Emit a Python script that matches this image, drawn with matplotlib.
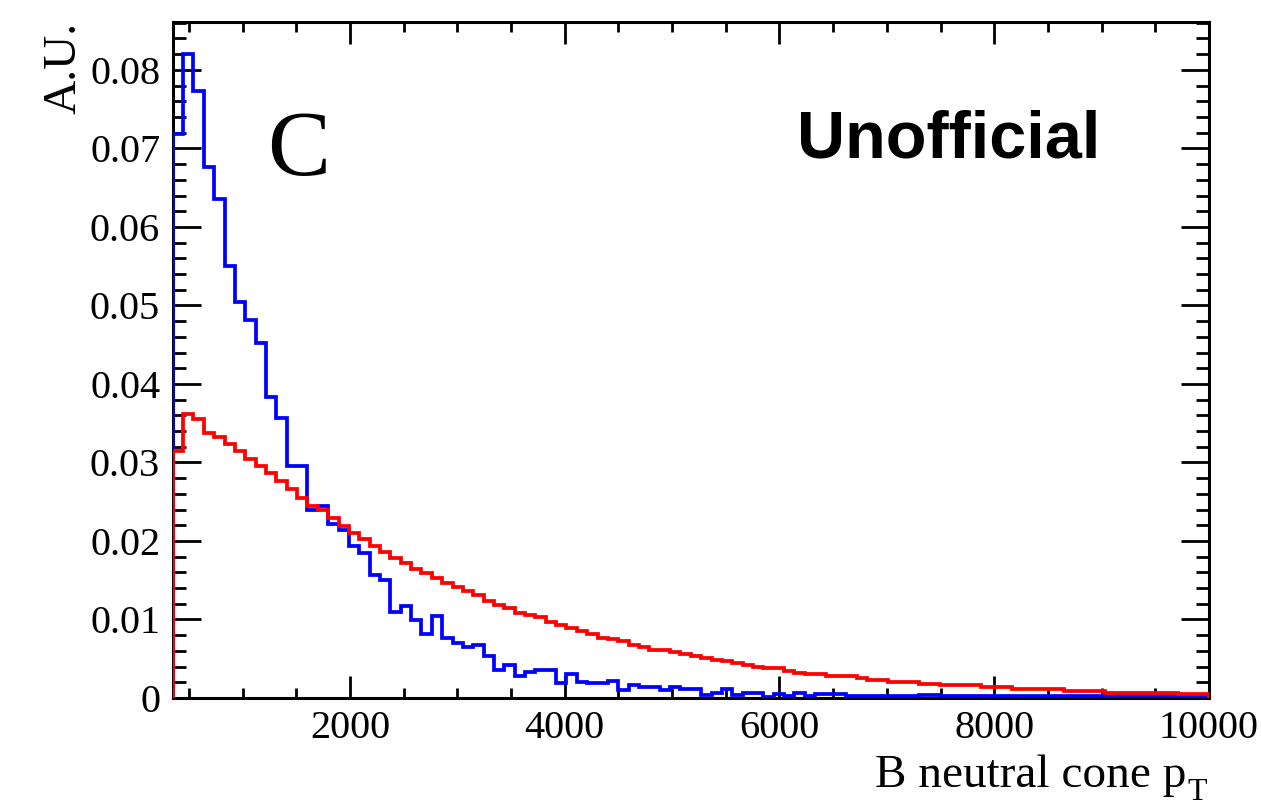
import numpy as np
import matplotlib
matplotlib.use("Agg")
import matplotlib.pyplot as plt
from matplotlib.ticker import MultipleLocator, FuncFormatter

# ---- data ----
x_min, x_max, n_bins = 350.0, 10000.0, 100

blue_values = [
    0.0718, 0.0820, 0.0773, 0.0676, 0.0635, 0.0550, 0.0505, 0.0482, 0.0452, 0.0384,
    0.0357, 0.0295, 0.0295, 0.0240, 0.0245, 0.0221, 0.0214, 0.0193, 0.0185, 0.0157,
    0.0150, 0.0110, 0.0117, 0.0099, 0.0082, 0.0104, 0.0077, 0.0070, 0.0065, 0.0068,
    0.0054, 0.0036, 0.0042, 0.0028, 0.0033, 0.0036, 0.0036, 0.0019, 0.0031, 0.0021,
    0.0019, 0.0019, 0.0022, 0.0010, 0.0016, 0.0014, 0.0014, 0.0010, 0.0014, 0.0011,
    0.0011, 0.0004, 0.0007, 0.0012, 0.0004, 0.0007, 0.0007, 0.0001, 0.0005, 0.0003,
    0.0007, 0.0003, 0.0005, 0.0005, 0.0005, 0.0002, 0.0002, 0.0002, 0.0002, 0.0002,
    0.0002, 0.0002, 0.0004, 0.0004, 0.0002, 0.0002, 0.0002, 0.0002, 0.0002, 0.0002,
    0.0002, 0.0002, 0.0002, 0.0002, 0.0002, 0.0002, 0.0002, 0.0002, 0.0002, 0.0002,
    0.0002, 0.0002, 0.0002, 0.0002, 0.0002, 0.0002, 0.0002, 0.0003, 0.0003, 0.0003,
]

red_values = [
    0.0315, 0.0362, 0.0355, 0.0338, 0.0332, 0.0323, 0.0314, 0.0304, 0.0295, 0.0286,
    0.0276, 0.0266, 0.0255, 0.0245, 0.0239, 0.0229, 0.0219, 0.0210, 0.0202, 0.0193,
    0.0186, 0.0178, 0.0172, 0.0164, 0.0159, 0.0153, 0.0146, 0.0141, 0.0136, 0.0131,
    0.0124, 0.0119, 0.0114, 0.0108, 0.0106, 0.0103, 0.0097, 0.0093, 0.0089, 0.0085,
    0.0082, 0.0077, 0.0075, 0.0072, 0.0068, 0.0065, 0.0061, 0.0061, 0.0058, 0.0056,
    0.0054, 0.0051, 0.0049, 0.0047, 0.0044, 0.0042, 0.0040, 0.0038, 0.0038, 0.0035,
    0.0032, 0.0031, 0.0031, 0.0028, 0.0028, 0.0028, 0.0026, 0.0023, 0.0023, 0.0021,
    0.0021, 0.0021, 0.0018, 0.0018, 0.0016, 0.0016, 0.0016, 0.0016, 0.0014, 0.0014,
    0.0014, 0.0011, 0.0011, 0.0011, 0.0011, 0.0011, 0.0009, 0.0009, 0.0009, 0.0009,
    0.0007, 0.0007, 0.0007, 0.0007, 0.0007, 0.0007, 0.0007, 0.0005, 0.0005, 0.0005,
]

x_major_ticks = [2000, 4000, 6000, 8000, 10000]
y_major_ticks = [0.0, 0.01, 0.02, 0.03, 0.04, 0.05, 0.06, 0.07, 0.08]
x_label_main = "B neutral cone p"
x_label_sub = "T"
y_label = "A.U."

# ---- style ----
plt.rcParams["font.family"] = ["Liberation Serif", "DejaVu Serif"]

fig = plt.figure(figsize=(12.61, 8.09), dpi=100)
AX_L, AX_R, AX_B, AX_T = 172.7, 1209.0, 698.0, 22.0
ax = fig.add_axes([AX_L / 1261, 1 - AX_B / 809, (AX_R - AX_L) / 1261, (AX_B - AX_T) / 809])

def ax_x(px):
    return (px - AX_L) / (AX_R - AX_L)

def ax_y(py):
    return (AX_B - py) / (AX_B - AX_T)

edges = np.linspace(x_min, x_max, n_bins + 1)
ax.stairs(blue_values, edges, baseline=0, fill=False, color=(0, 0, 1), lw=2.7, zorder=3)
ax.stairs(red_values, edges, baseline=0, fill=False, color=(1, 0, 0), lw=2.7, zorder=4)

ax.set_xlim(x_min, x_max)
ax.set_ylim(0, 0.0861)

ax.set_xticks(x_major_ticks)
ax.set_yticks(y_major_ticks)
ax.xaxis.set_minor_locator(MultipleLocator(500))
ax.yaxis.set_minor_locator(MultipleLocator(0.002))
ax.yaxis.set_major_formatter(FuncFormatter(lambda v, p: f"{v:g}"))
ax.xaxis.set_major_formatter(FuncFormatter(lambda v, p: f"{int(round(v))}"))

for s in ax.spines.values():
    s.set_linewidth(2.2)
    s.set_zorder(2.5)

ax.tick_params(axis="both", which="both", direction="in", top=True, right=True,
               width=2.0, colors="black", labelsize=29)
ax.tick_params(axis="x", which="major", length=15.5, pad=9)
ax.tick_params(axis="x", which="minor", length=7.5)
ax.tick_params(axis="y", which="major", length=20.5, pad=9)
ax.tick_params(axis="y", which="minor", length=9.5)

# axis titles (ROOT style: right/top aligned)
ax.text(ax_x(1186), ax_y(787), x_label_main, transform=ax.transAxes, ha="right",
        va="baseline", fontsize=34)
ax.text(ax_x(1187), ax_y(800), x_label_sub, transform=ax.transAxes, ha="left",
        va="baseline", fontsize=23)
ax.text(ax_x(86), 1.0, y_label, transform=ax.transAxes, rotation=90,
        ha="right", va="top", fontsize=34)

# annotations
ax.text(ax_x(266.7), ax_y(175), "C", transform=ax.transAxes,
        ha="left", va="baseline", fontsize=68, family="Liberation Serif")
ax.text(ax_x(797), ax_y(157), "Unofficial", transform=ax.transAxes,
        ha="left", va="baseline", fontsize=48, family="Liberation Sans", fontweight="bold")

fig.savefig("out.png", dpi=100)
